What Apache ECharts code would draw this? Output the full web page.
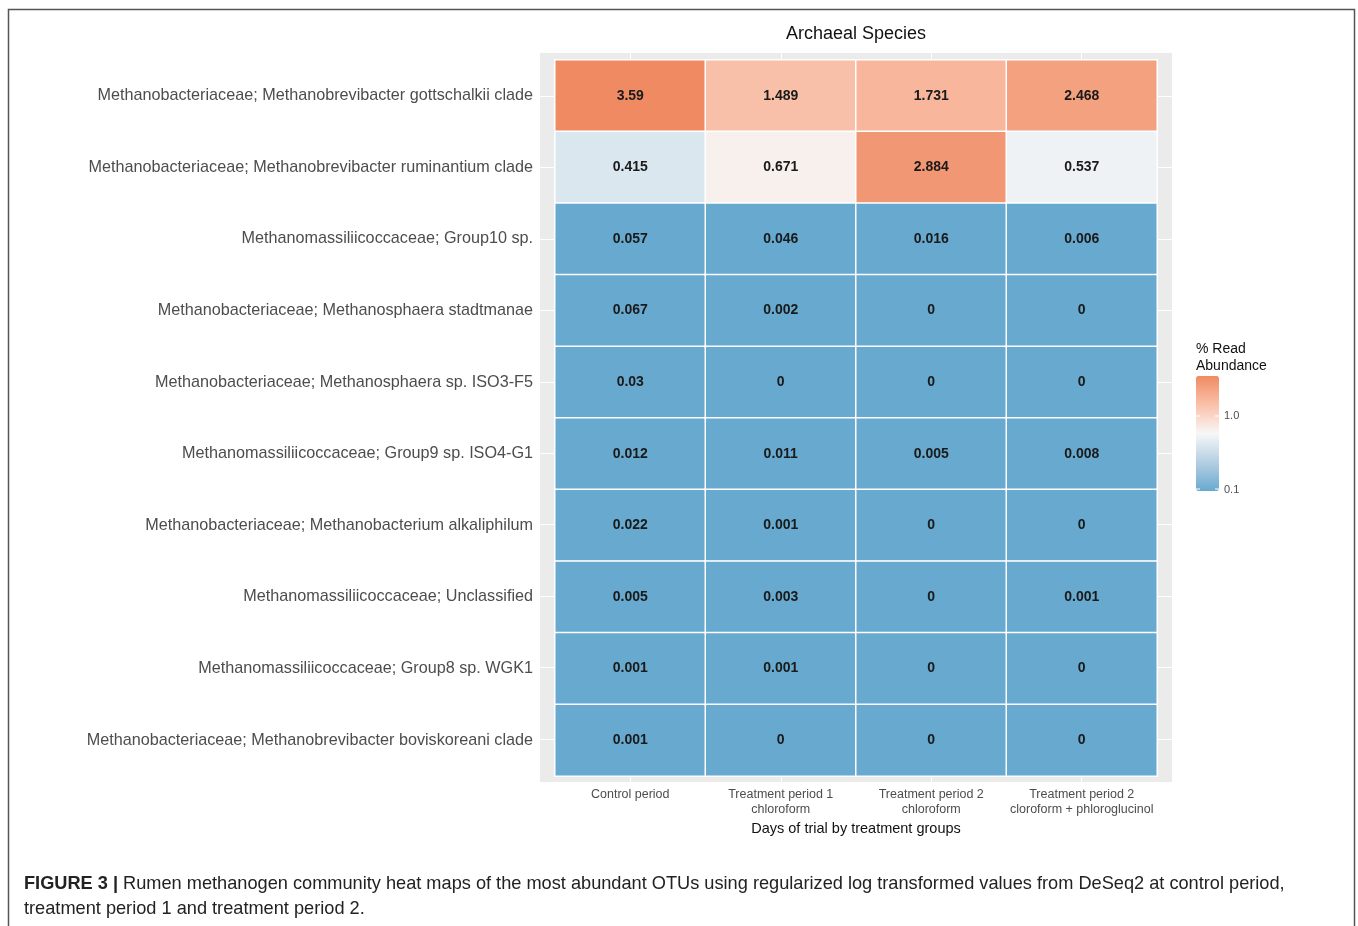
<!DOCTYPE html>
<html>
<head>
<meta charset="utf-8">
<script src="https://cdn.jsdelivr.net/npm/echarts@6.0.0/dist/echarts.min.js"></script>
<style>
  html, body { margin: 0; padding: 0; background: #fff; }
  #main { width: 1358px; height: 926px; }
</style>
</head>
<body>
<div id="main"></div>
<script>
// row labels, top to bottom
const species = [
  'Methanobacteriaceae; Methanobrevibacter gottschalkii clade',
  'Methanobacteriaceae; Methanobrevibacter ruminantium clade',
  'Methanomassiliicoccaceae; Group10 sp.',
  'Methanobacteriaceae; Methanosphaera stadtmanae',
  'Methanobacteriaceae; Methanosphaera sp. ISO3-F5',
  'Methanomassiliicoccaceae; Group9 sp. ISO4-G1',
  'Methanobacteriaceae; Methanobacterium alkaliphilum',
  'Methanomassiliicoccaceae; Unclassified',
  'Methanomassiliicoccaceae; Group8 sp. WGK1',
  'Methanobacteriaceae; Methanobrevibacter boviskoreani clade'
];

const periods = [
  'Control period',
  'Treatment period 1\nchloroform',
  'Treatment period 2\nchloroform',
  'Treatment period 2\ncloroform + phloroglucinol'
];

// % read abundance per period (same order as species)
const controlPeriod = [3.59, 0.415, 0.057, 0.067, 0.03, 0.012, 0.022, 0.005, 0.001, 0.001];
const treatment1Chl = [1.489, 0.671, 0.046, 0.002, 0, 0.011, 0.001, 0.003, 0.001, 0];
const treatment2Chl = [1.731, 2.884, 0.016, 0, 0, 0.005, 0, 0, 0, 0];
const treatment2Phl = [2.468, 0.537, 0.006, 0, 0, 0.008, 0, 0.001, 0, 0];

const legendTicks = ['1.0', '0.1'];

const columns = [controlPeriod, treatment1Chl, treatment2Chl, treatment2Phl];

// colour uses log10 scale, squished below 0.1
const cells = [];
columns.forEach((col, x) => {
  col.forEach((v, y) => {
    cells.push([x, y, Math.log10(Math.max(v, 0.1)), v]);
  });
});

// ggplot blends the gradient in Lab space, so build extra stops the same way
function toLab(hex) {
  const c = [1, 3, 5].map(i => parseInt(hex.substr(i, 2), 16) / 255)
    .map(v => v <= 0.04045 ? v / 12.92 : Math.pow((v + 0.055) / 1.055, 2.4));
  const X = (c[0] * 0.4124 + c[1] * 0.3576 + c[2] * 0.1805) / 0.95047;
  const Y = c[0] * 0.2126 + c[1] * 0.7152 + c[2] * 0.0722;
  const Z = (c[0] * 0.0193 + c[1] * 0.1192 + c[2] * 0.9505) / 1.08883;
  const f = t => t > 0.008856 ? Math.cbrt(t) : 7.787 * t + 16 / 116;
  return [116 * f(Y) - 16, 500 * (f(X) - f(Y)), 200 * (f(Y) - f(Z))];
}
function fromLab(L, a, b) {
  const fy = (L + 16) / 116, fx = fy + a / 500, fz = fy - b / 200;
  const g = t => t * t * t > 0.008856 ? t * t * t : (t - 16 / 116) / 7.787;
  const X = g(fx) * 0.95047, Y = g(fy), Z = g(fz) * 1.08883;
  const lin = [
    X * 3.2406 - Y * 1.5372 - Z * 0.4986,
    -X * 0.9689 + Y * 1.8758 + Z * 0.0415,
    X * 0.0557 - Y * 0.2040 + Z * 1.0570
  ];
  return 'rgb(' + lin.map(v => {
    const s = v <= 0.0031308 ? 12.92 * v : 1.055 * Math.pow(v, 1 / 2.4) - 0.055;
    return Math.round(Math.min(1, Math.max(0, s)) * 255);
  }).join(',') + ')';
}
function labRamp(stops, n) {
  const labs = stops.map(toLab);
  const out = [];
  for (let i = 0; i <= n; i++) {
    const t = i / n * (labs.length - 1);
    const k = Math.min(Math.floor(t), labs.length - 2);
    const u = t - k;
    const p = labs[k], q = labs[k + 1];
    out.push(fromLab(p[0] + (q[0] - p[0]) * u, p[1] + (q[1] - p[1]) * u, p[2] + (q[2] - p[2]) * u));
  }
  return out;
}

// helper steps for the grey panel: each tile = 10 steps, 1 step of margin each side
const stepsX = Array.from({ length: periods.length * 10 + 3 }, (_, i) => i);
const stepsY = Array.from({ length: species.length * 10 + 3 }, (_, i) => i);
const atCentre = idx => idx % 10 === 6;

const chart = echarts.init(document.getElementById('main'));

const option = {
  animation: false,
  textStyle: { fontFamily: 'Liberation Sans, Arial, sans-serif' },
  grid: [
    // grey panel
    { left: 540, top: 53, width: 632, height: 729, show: true, backgroundColor: '#ebebeb', borderWidth: 0 },
    // tiles
    { left: 555, top: 60, width: 602, height: 716 }
  ],
  xAxis: [
    {
      gridIndex: 0, type: 'category', data: stepsX, boundaryGap: false,
      axisLine: { show: false }, axisTick: { show: false }, axisLabel: { show: false },
      splitLine: { show: true, interval: atCentre, lineStyle: { color: '#fff', width: 1 } }
    },
    {
      gridIndex: 1, type: 'category', data: periods, position: 'bottom', offset: 6,
      axisLine: { show: false },
      axisTick: { length: 4, alignWithLabel: true, lineStyle: { color: '#333' } },
      axisLabel: { color: '#4d4d4d', fontSize: 12.5, lineHeight: 15, margin: 5, interval: 0 },
      splitLine: { show: false },
      name: 'Days of trial by treatment groups', nameLocation: 'middle', nameGap: 37,
      nameTextStyle: { color: '#111', fontSize: 14.5 }
    }
  ],
  yAxis: [
    {
      gridIndex: 0, type: 'category', data: stepsY, boundaryGap: false,
      axisLine: { show: false }, axisTick: { show: false }, axisLabel: { show: false },
      splitLine: { show: true, interval: atCentre, lineStyle: { color: '#fff', width: 1 } }
    },
    {
      gridIndex: 1, type: 'category', data: species, inverse: true, offset: 15,
      axisLine: { show: false },
      axisTick: { length: 4, alignWithLabel: true, lineStyle: { color: '#333', width: 1 } },
      axisLabel: { color: '#4d4d4d', fontSize: 16.2, margin: 7, interval: 0, padding: [4, 0, 0, 0] },
      splitLine: { show: false }
    }
  ],
  visualMap: {
    type: 'continuous',
    min: -1,
    max: Math.log10(3.59),
    dimension: 2,
    seriesIndex: 0,
    calculable: false,
    hoverLink: false,
    left: 1196,
    top: 376,
    padding: 0,
    itemWidth: 23,
    itemHeight: 115,
    inRange: { color: labRamp(['#67a9cf', '#f7f7f7', '#ef8a62'], 40) }
  },
  series: [{
    type: 'heatmap',
    xAxisIndex: 1,
    yAxisIndex: 1,
    data: cells,
    itemStyle: { borderColor: '#fff', borderWidth: 1.5 },
    label: {
      show: true,
      formatter: p => String(p.data[3]),
      color: '#1a1a1a',
      fontSize: 14,
      fontWeight: 'bold'
    },
    emphasis: { disabled: true }
  }],
  graphic: [
    {
      type: 'rect', silent: true,
      shape: { x: 8.5, y: 9.5, width: 1346, height: 1000 },
      style: { fill: 'none', stroke: '#555', lineWidth: 1.5 }
    },
    {
      type: 'text', x: 856, y: 34,
      style: { text: 'Archaeal Species', align: 'center', verticalAlign: 'middle', fontSize: 18, fill: '#111', fontFamily: 'Liberation Sans' }
    },
    {
      type: 'text', x: 1196, y: 341,
      style: { text: '% Read\nAbundance', align: 'left', verticalAlign: 'top', fontSize: 14, lineHeight: 17, fill: '#111', fontFamily: 'Liberation Sans' }
    },
    {
      type: 'text', x: 1224, y: 416,
      style: { text: legendTicks[0], verticalAlign: 'middle', fontSize: 11, fill: '#4d4d4d', fontFamily: 'Liberation Sans' }
    },
    {
      type: 'text', x: 1224, y: 490,
      style: { text: legendTicks[1], verticalAlign: 'middle', fontSize: 11, fill: '#4d4d4d', fontFamily: 'Liberation Sans' }
    },
    { type: 'line', shape: { x1: 1196, y1: 416, x2: 1200, y2: 416 }, style: { stroke: '#fff', lineWidth: 1 }, z: 100 },
    { type: 'line', shape: { x1: 1215, y1: 416, x2: 1219, y2: 416 }, style: { stroke: '#fff', lineWidth: 1 }, z: 100 },
    { type: 'line', shape: { x1: 1196, y1: 489, x2: 1200, y2: 489 }, style: { stroke: '#fff', lineWidth: 1 }, z: 100 },
    { type: 'line', shape: { x1: 1215, y1: 489, x2: 1219, y2: 489 }, style: { stroke: '#fff', lineWidth: 1 }, z: 100 },
    {
      type: 'text', x: 24, y: 884,
      style: {
        text: '{b|FIGURE 3 |} Rumen methanogen community heat maps of the most abundant OTUs using regularized log transformed values from DeSeq2 at control period,',
        verticalAlign: 'middle', fontSize: 18.2, fill: '#222', fontFamily: 'Liberation Sans',
        rich: { b: { fontWeight: 'bold', fontSize: 18.2, fill: '#222', fontFamily: 'Liberation Sans' } }
      }
    },
    {
      type: 'text', x: 24, y: 909,
      style: { text: 'treatment period 1 and treatment period 2.', verticalAlign: 'middle', fontSize: 18.2, fill: '#222', fontFamily: 'Liberation Sans' }
    }
  ]
};

chart.setOption(option);
</script>
</body>
</html>
